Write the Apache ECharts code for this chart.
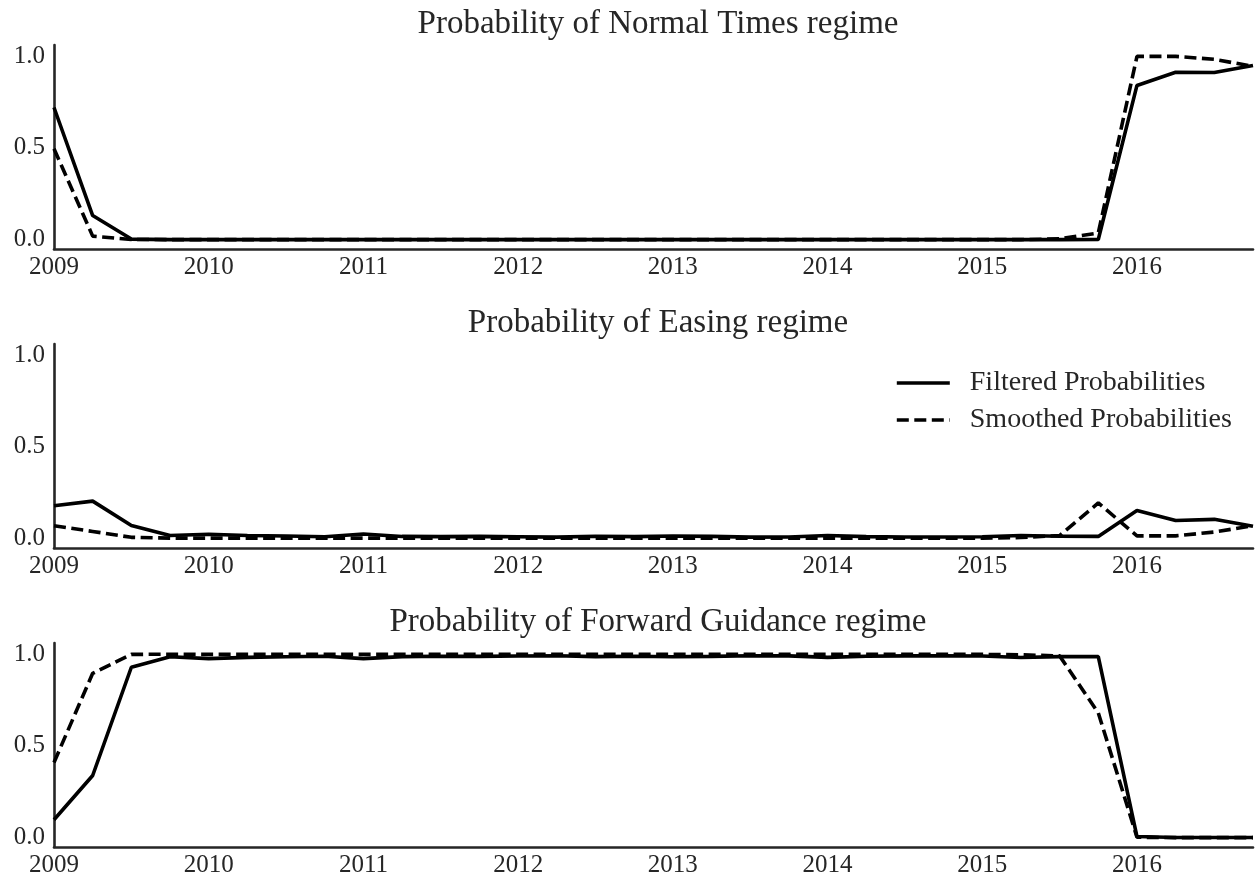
<!DOCTYPE html>
<html>
<head>
<meta charset="utf-8">
<script src="https://cdn.jsdelivr.net/npm/echarts@6/dist/echarts.min.js"></script>
<style>
  html, body { margin: 0; padding: 0; background: #fff; }
  #chart { width: 1257px; height: 882px; }
</style>
</head>
<body>
<div id="chart"></div>
<script>
// Quarterly observation dates
const periods = [
  '2009Q1','2009Q2','2009Q3','2009Q4',
  '2010Q1','2010Q2','2010Q3','2010Q4',
  '2011Q1','2011Q2','2011Q3','2011Q4',
  '2012Q1','2012Q2','2012Q3','2012Q4',
  '2013Q1','2013Q2','2013Q3','2013Q4',
  '2014Q1','2014Q2','2014Q3','2014Q4',
  '2015Q1','2015Q2','2015Q3','2015Q4',
  '2016Q1','2016Q2','2016Q3','2016Q4'
];

// Regime titles
const regimeTitles = [
  'Probability of Normal Times regime',
  'Probability of Easing regime',
  'Probability of Forward Guidance regime'
];

const seriesNames = ['Filtered Probabilities', 'Smoothed Probabilities'];

// Normal Times regime
const normalFiltered = [
  0.720, 0.132, 0.004, 0.001,
  0.001, 0.001, 0.001, 0.001,
  0.001, 0.001, 0.001, 0.001,
  0.001, 0.001, 0.001, 0.001,
  0.001, 0.001, 0.001, 0.001,
  0.001, 0.001, 0.001, 0.001,
  0.001, 0.001, 0.001, 0.002,
  0.840, 0.912, 0.910, 0.948
];
const normalSmoothed = [
  0.495, 0.020, 0.002, 0.001,
  0.001, 0.001, 0.001, 0.001,
  0.001, 0.001, 0.001, 0.001,
  0.001, 0.001, 0.001, 0.001,
  0.001, 0.001, 0.001, 0.001,
  0.001, 0.001, 0.001, 0.001,
  0.001, 0.001, 0.005, 0.037,
  0.998, 0.998, 0.982, 0.944
];

// Easing regime
const easingFiltered = [
  0.180, 0.205, 0.072, 0.018,
  0.025, 0.018, 0.015, 0.011,
  0.026, 0.013, 0.012, 0.013,
  0.011, 0.009, 0.014, 0.012,
  0.015, 0.013, 0.009, 0.010,
  0.018, 0.012, 0.010, 0.010,
  0.011, 0.018, 0.014, 0.013,
  0.154, 0.100, 0.106, 0.068
];
const easingSmoothed = [
  0.071, 0.040, 0.008, 0.004,
  0.004, 0.004, 0.003, 0.003,
  0.004, 0.003, 0.003, 0.003,
  0.003, 0.003, 0.003, 0.003,
  0.003, 0.003, 0.003, 0.003,
  0.004, 0.003, 0.003, 0.003,
  0.004, 0.007, 0.018, 0.195,
  0.016, 0.016, 0.037, 0.071
];

// Forward Guidance regime
const guidanceFiltered = [
  0.098, 0.339, 0.928, 0.985,
  0.975, 0.982, 0.985, 0.988,
  0.975, 0.986, 0.988, 0.987,
  0.989, 0.991, 0.986, 0.988,
  0.985, 0.987, 0.991, 0.990,
  0.982, 0.988, 0.990, 0.990,
  0.989, 0.981, 0.986, 0.986,
  0.007, 0.002, 0.002, 0.002
];
const guidanceSmoothed = [
  0.410, 0.895, 0.998, 0.999,
  0.998, 0.998, 0.998, 0.998,
  0.998, 0.998, 0.998, 0.998,
  0.998, 0.998, 0.998, 0.998,
  0.998, 0.998, 0.998, 0.998,
  0.998, 0.998, 0.998, 0.998,
  0.998, 0.996, 0.990, 0.680,
  0.003, 0.001, 0.001, 0.001
];

// Tick labels
const yearTicks = [2009, 2010, 2011, 2012, 2013, 2014, 2015, 2016];
const probTicks = [0.0, 0.5, 1.0];

const panels = [
  [normalFiltered, normalSmoothed],
  [easingFiltered, easingSmoothed],
  [guidanceFiltered, guidanceSmoothed]
];

// Quarter string -> fractional year on the value axis
const toX = p => Number(p.slice(0, 4)) + (Number(p.slice(5)) - 1) / 4;
const pairs = vals => periods.map((p, i) => [toX(p), vals[i]]);

const FONT = '"Liberation Serif", "Times New Roman", serif';
const INK = '#262626';
const LINE_W = 3.6;
const DASH = [12, 5.5];
const gridTops = [45, 344, 643];
const gridHeight = 204;

const grids = gridTops.map(t => ({ left: 54, right: 4, top: t, height: gridHeight }));

const xAxes = gridTops.map((t, i) => ({
  type: 'value', gridIndex: i, min: 2009, max: 2016.75,
  splitLine: { show: false },
  axisLine: { show: true, onZero: false, lineStyle: { color: INK, width: 2.6 } },
  axisTick: { show: false, customValues: yearTicks },
  axisLabel: {
    customValues: yearTicks, margin: 6,
    fontFamily: FONT, fontSize: 25, color: INK,
    formatter: v => String(Math.round(v))
  }
}));

const yAxes = gridTops.map((t, i) => ({
  type: 'value', gridIndex: i, min: -0.05, max: 1.06,
  splitLine: { show: false },
  axisLine: { show: true, onZero: false, lineStyle: { color: INK, width: 2.6 } },
  axisTick: { show: false, customValues: probTicks },
  axisLabel: {
    customValues: probTicks, margin: 9,
    fontFamily: FONT, fontSize: 25, color: INK,
    formatter: v => v.toFixed(1)
  }
}));

const titles = regimeTitles.map((txt, i) => ({
  text: txt, left: 653, top: gridTops[i] - 42, textAlign: 'center',
  textStyle: { fontFamily: FONT, fontSize: 33, fontWeight: 'normal', color: INK }
}));

const series = [];
panels.forEach((pair, i) => {
  pair.forEach((vals, k) => {
    series.push({
      name: seriesNames[k], type: 'line',
      xAxisIndex: i, yAxisIndex: i,
      data: pairs(vals),
      symbol: 'none', showSymbol: false,
      lineStyle: {
        color: '#000', width: LINE_W,
        type: k === 0 ? 'solid' : DASH
      },
      itemStyle: { color: '#000' },
      z: 2 + k
    });
  });
});

const chart = echarts.init(document.getElementById('chart'), null, { renderer: 'canvas' });
chart.setOption({
  animation: false,
  backgroundColor: '#fff',
  title: titles,
  grid: grids,
  xAxis: xAxes,
  yAxis: yAxes,
  legend: {
    data: seriesNames,
    orient: 'vertical',
    left: 895, top: 369, padding: 0,
    itemWidth: 53, itemHeight: 25, itemGap: 9,
    // plain line keys: hide the marker, keep the stroke
    itemStyle: { opacity: 0 },
    lineStyle: { width: LINE_W, color: '#000' },
    textStyle: {
      fontFamily: FONT, fontSize: 28, color: INK,
      padding: [0, 0, 0, 15], lineHeight: 25
    }
  },
  series: series
});
</script>
</body>
</html>
